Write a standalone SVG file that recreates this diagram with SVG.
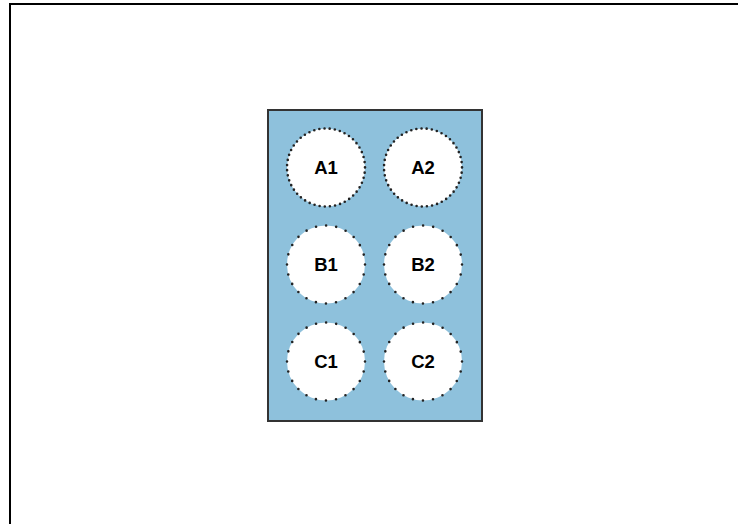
<svg xmlns="http://www.w3.org/2000/svg" width="738" height="524" viewBox="0 0 738 524">
<style>
.frame{fill:none;stroke:#000;stroke-width:2}
.plate{fill:#8ec1dc;stroke:#333;stroke-width:2}
.well{fill:#fff;stroke:#222;stroke-width:2.6;stroke-linecap:round}
.dense{stroke-dasharray:0 5.2}
.sparse{stroke-dasharray:0 10.2}
.lbl{font-family:"Liberation Sans",Arial,sans-serif;font-weight:bold;font-size:18.5px;fill:#000;text-anchor:middle}
</style>
<rect width="738" height="524" fill="#fff"/>
<rect class="frame" x="10" y="4" width="740" height="530"/>
<g id="plate"><rect class="plate" x="268" y="110" width="214" height="311"/></g>
<g id="A1"><circle class="well dense" cx="326" cy="167.5" r="39"/><text class="lbl" x="326" y="173.5">A1</text></g>
<g id="A2"><circle class="well dense" cx="423" cy="167.5" r="39"/><text class="lbl" x="423" y="173.5">A2</text></g>
<g id="B1"><circle class="well sparse" cx="326" cy="264.5" r="39"/><text class="lbl" x="326" y="270.5">B1</text></g>
<g id="B2"><circle class="well sparse" cx="423" cy="264.5" r="39"/><text class="lbl" x="423" y="270.5">B2</text></g>
<g id="C1"><circle class="well sparse" cx="326" cy="361.5" r="39"/><text class="lbl" x="326" y="367.5">C1</text></g>
<g id="C2"><circle class="well sparse" cx="423" cy="361.5" r="39"/><text class="lbl" x="423" y="367.5">C2</text></g>
<g id="connectors"/>
</svg>
